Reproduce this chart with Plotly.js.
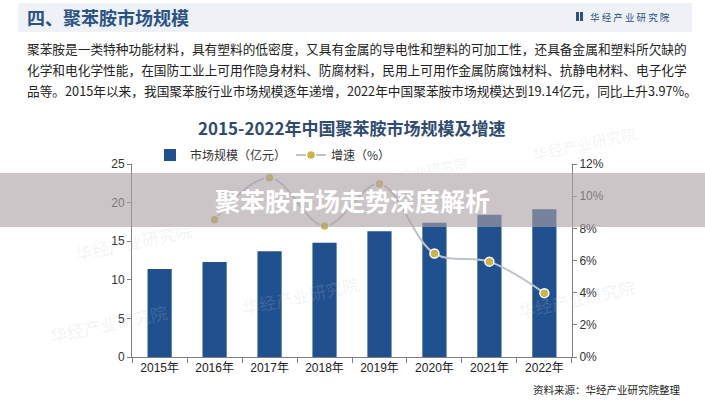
<!DOCTYPE html>
<html>
<head>
<meta charset="utf-8">
<script src="https://cdn.plot.ly/plotly-3.0.1.min.js"></script>
<style>
html,body{margin:0;padding:0;background:#fff;}
#chart{width:705px;height:400px;}
</style>
</head>
<body>
<div id="chart"></div>
<script>
// ---- data ----
const years = ["2015年","2016年","2017年","2018年","2019年","2020年","2021年","2022年"];
const marketSize = [11.4, 12.3, 13.7, 14.8, 16.3, 17.4, 18.41, 19.14];   // 亿元
const growthRate = [null, 0.0854, 0.1115, 0.0815, 0.1076, 0.0643, 0.0593, 0.0397]; // %
const seriesNames = ["市场规模（亿元）", "增速（%）"];

// ---- layout helpers (pixel -> paper) ----
const ML = 132, MR = 133, MT = 164, MB = 43, W = 705, H = 400;
const PW = W - ML - MR, PH = H - MT - MB;
const X = px => (px - ML) / PW;
const Y = py => (H - MB - py) / PH;

const cjk = '"Noto Sans CJK SC", "Noto Sans", sans-serif';
const latin = '"Liberation Sans", Arial, "Noto Sans CJK SC", sans-serif';

const traces = [
  {
    type: 'bar', x: years, y: marketSize, name: seriesNames[0],
    marker: {color: '#21508f'}, width: 0.44, hoverinfo: 'x+y'
  },
  {
    type: 'scatter', mode: 'lines+markers', x: years, y: growthRate, yaxis: 'y2',
    name: seriesNames[1], connectgaps: false,
    line: {color: '#bcc3cb', width: 2, shape: 'spline', smoothing: 1},
    marker: {color: '#c9b54c', size: 9, line: {color: '#ffffff', width: 1.5}}
  }
];

const wm = (px, py, size, ang) => ({
  xref: 'paper', yref: 'paper', x: X(px), y: Y(py), showarrow: false,
  text: '华经产业研究院', textangle: ang,
  font: {family: cjk, size: size, color: 'rgba(190,197,210,0.2)'}
});

const layout = {
  width: W, height: H,
  margin: {l: ML, r: MR, t: MT, b: MB, pad: 0},
  paper_bgcolor: '#ffffff', plot_bgcolor: 'rgba(0,0,0,0)',
  showlegend: true,
  legend: {
    orientation: 'h', x: X(150), xanchor: 'left', y: Y(155), yanchor: 'middle',
    font: {family: cjk, size: 12, color: '#333'}, itemwidth: 30,
    bgcolor: 'rgba(0,0,0,0)', traceorder: 'normal'
  },
  bargap: 0.56,
  xaxis: {
    type: 'category', tickson: 'boundaries', ticks: 'outside', ticklen: 5,
    tickcolor: '#7f7f7f', showline: true, linecolor: '#7f7f7f', linewidth: 1,
    showgrid: false, zeroline: false,
    tickfont: {family: latin, size: 12, color: '#222'}
  },
  yaxis: {
    range: [0, 25], dtick: 5, showgrid: false, zeroline: false,
    showline: true, linecolor: '#7f7f7f', ticks: 'outside', ticklen: 4, tickcolor: '#7f7f7f',
    tickfont: {family: latin, size: 12, color: '#333'}
  },
  yaxis2: {
    overlaying: 'y', side: 'right', range: [0, 0.12], dtick: 0.02, tickformat: '.0%',
    showgrid: false, zeroline: false,
    showline: true, linecolor: '#7f7f7f', ticks: 'outside', ticklen: 4, tickcolor: '#7f7f7f',
    tickfont: {family: latin, size: 12, color: '#333'}
  },
  shapes: [
    {type: 'rect', xref: 'paper', yref: 'paper', x0: X(18), x1: X(692), y0: Y(32), y1: Y(3),
     fillcolor: '#eef2f7', line: {width: 0}, layer: 'below'},
    {type: 'rect', xref: 'paper', yref: 'paper', x0: X(576), x1: X(579), y0: Y(21), y1: Y(12),
     fillcolor: '#2b5283', line: {width: 0}, layer: 'below'},
    {type: 'rect', xref: 'paper', yref: 'paper', x0: X(580), x1: X(583), y0: Y(21), y1: Y(12),
     fillcolor: '#2b5283', line: {width: 0}, layer: 'below'},
    {type: 'rect', xref: 'paper', yref: 'paper', x0: X(0), x1: X(705), y0: Y(227), y1: Y(173),
     fillcolor: 'rgba(172,162,166,0.62)', line: {width: 0}, layer: 'above'}
  ],
  annotations: [
    wm(70, 215, 17, -12), wm(45, 350, 17, -12), wm(300, 322, 17, -12),
    wm(640, 325, 17, -12), wm(640, 120, 15, -12), wm(420, 150, 14, -12),
    {xref: 'paper', yref: 'paper', x: X(25), y: Y(17), xanchor: 'left', yanchor: 'middle',
     showarrow: false, text: '<b>四、聚苯胺市场规模</b>',
     font: {family: cjk, size: 18, color: '#2b5283'}},
    {xref: 'paper', yref: 'paper', x: X(588), y: Y(17), xanchor: 'left', yanchor: 'middle',
     showarrow: false, text: '华 经 产 业 研 究 院',
     font: {family: cjk, size: 9.5, color: '#2b5283'}},
    {xref: 'paper', yref: 'paper', x: X(25), y: Y(48), xanchor: 'left', yanchor: 'middle',
     showarrow: false, text: '聚苯胺是一类特种功能材料，具有塑料的低密度，又具有金属的导电性和塑料的可加工性，还具备金属和塑料所欠缺的',
     font: {family: cjk, size: 12.7, color: '#222'}},
    {xref: 'paper', yref: 'paper', x: X(25), y: Y(69), xanchor: 'left', yanchor: 'middle',
     showarrow: false, text: '化学和电化学性能，在国防工业上可用作隐身材料、防腐材料，民用上可用作金属防腐蚀材料、抗静电材料、电子化学',
     font: {family: cjk, size: 12.7, color: '#222'}},
    {xref: 'paper', yref: 'paper', x: X(25), y: Y(90), xanchor: 'left', yanchor: 'middle',
     showarrow: false, text: '品等。2015年以来，我国聚苯胺行业市场规模逐年递增，2022年中国聚苯胺市场规模达到19.14亿元，同比上升3.97%。',
     font: {family: cjk, size: 12.7, color: '#222'}},
    {xref: 'paper', yref: 'paper', x: X(352), y: Y(127), xanchor: 'center', yanchor: 'middle',
     showarrow: false, text: '<b>2015-2022年中国聚苯胺市场规模及增速</b>',
     font: {family: cjk, size: 17, color: '#2f4c6e'}},
    {xref: 'paper', yref: 'paper', x: X(352), y: Y(200), xanchor: 'center', yanchor: 'middle',
     showarrow: false, text: '<b>聚苯胺市场走势深度解析</b>',
     font: {family: cjk, size: 25, color: '#ffffff'}},
    {xref: 'paper', yref: 'paper', x: X(682), y: Y(389), xanchor: 'right', yanchor: 'middle',
     showarrow: false, text: '资料来源：华经产业研究院整理',
     font: {family: cjk, size: 10.5, color: '#222'}}
  ]
};

Plotly.newPlot('chart', traces, layout, {displayModeBar: false, staticPlot: true});
</script>
</body>
</html>
